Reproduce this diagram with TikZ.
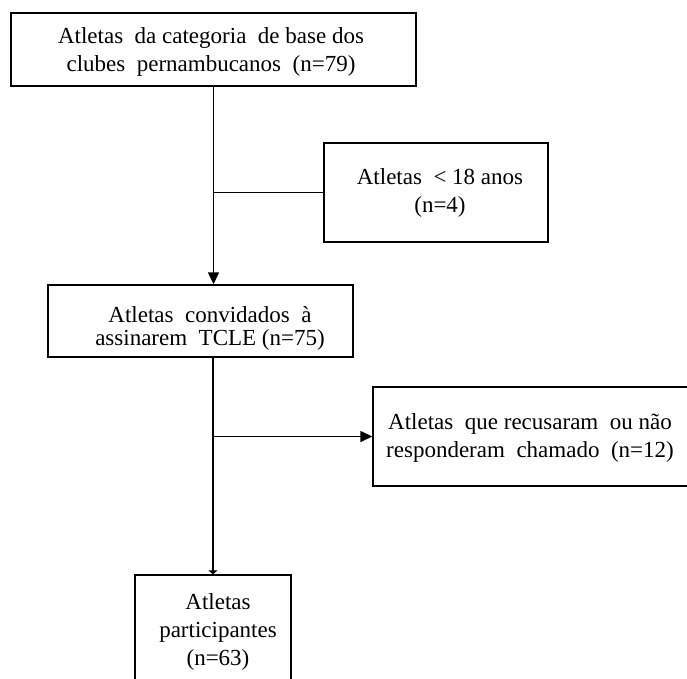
\documentclass[tikz,border=0pt]{standalone}
\usepackage{fontspec}
\setmainfont{Liberation Serif}
\usetikzlibrary{arrows.meta}
\newcommand{\wsp}{\hspace{0.5em}}
\begin{document}
\begin{tikzpicture}[x=1pt,y=-1pt,
  box/.style={draw,line width=1.4pt,inner sep=0pt,minimum width=#1},
  lbl/.style={align=center,inner sep=0pt,font=\fontsize{23}{28}\selectfont},
  conn/.style={line width=1.4pt},
  bigtip/.style={-{Triangle[length=12pt,width=11pt]}},
  smalltip/.style={-{Triangle[length=4pt,width=9pt]}}]
\useasboundingbox (0,0) rectangle (687,678);
\clip (0,0) rectangle (687,678);
% boxes
\node[box=405pt,minimum height=73pt] (b1) at (213.5,49.5) {};
\node[box=224pt,minimum height=99pt] (b2) at (436,192.5) {};
\node[box=305pt,minimum height=72pt] (b3) at (200.5,321) {};
\node[box=320pt,minimum height=99pt] (b4) at (533,436.5) {};
\node[box=156pt,minimum height=115pt] (b5) at (213,632.5) {};
% texts
\node[lbl] (t1) at (211,52) {Atletas\wsp da categoria\wsp de base dos\\clubes\wsp pernambucanos\wsp (n=79)};
\node[lbl] (t2) at (440,193) {Atletas\wsp {<} 18 anos\\(n=4)};
\node[lbl,font=\fontsize{23}{23}\selectfont] (t3) at (210,328) {Atletas\wsp convidados\wsp à\\assinarem\wsp TCLE (n=75)};
\node[lbl] (t4) at (530,438) {Atletas\wsp que recusaram\wsp ou não\\responderam\wsp chamado\wsp (n=12)};
\node[lbl] (t5) at (218,632) {Atletas\\participantes\\(n=63)};
% connectors
\draw[conn,bigtip] (b1.south) -- (b1.south |- b3.north);
\coordinate (j1) at (b1.south |- b2.west);
\draw[conn] (j1) -- (b2.west);
\coordinate (s3) at (b5.north |- b3.south);
\draw[conn,smalltip] (s3) -- (b5.north);
\coordinate (j2) at (b5.north |- b4.west);
\draw[conn,bigtip] (j2) -- (b4.west);
\end{tikzpicture}
\end{document}
